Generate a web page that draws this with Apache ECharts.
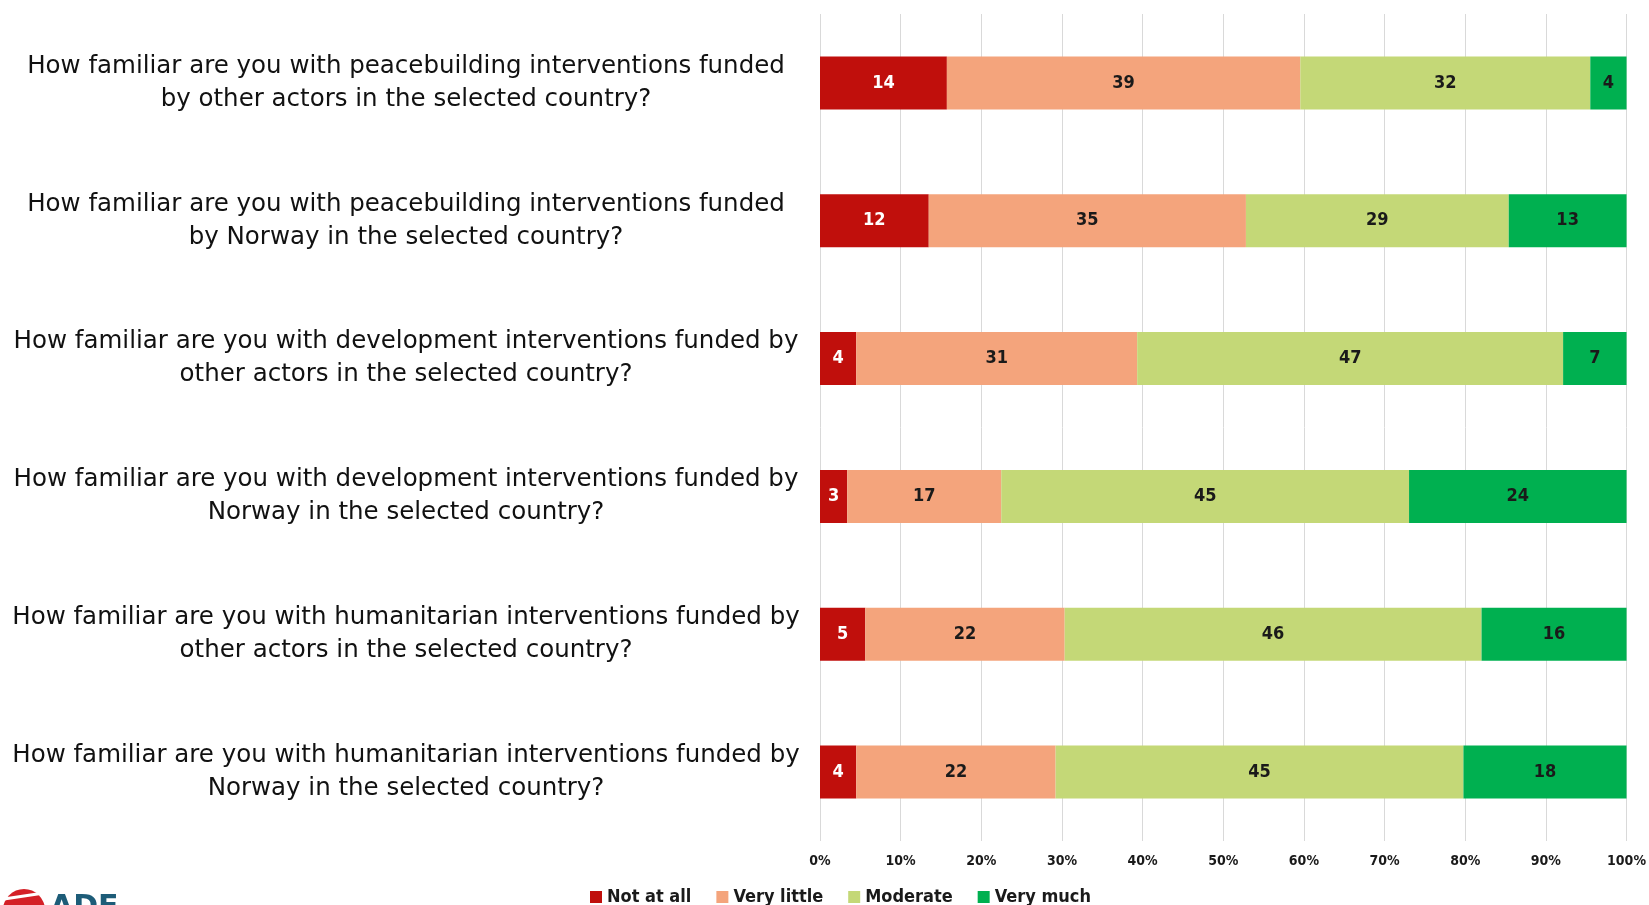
<!DOCTYPE html>
<html>
<head>
<meta charset="utf-8">
<script src="https://cdn.jsdelivr.net/npm/echarts@6/dist/echarts.min.js"></script>
<style>
  html, body { margin: 0; padding: 0; background: #fff; }
  #chart { width: 1649px; height: 905px; }
</style>
</head>
<body>
<div id="chart"></div>
<script>
// survey questions, top to bottom
const questions = [
  'How familiar are you with peacebuilding interventions funded\nby other actors in the selected country?',
  'How familiar are you with peacebuilding interventions funded\nby Norway in the selected country?',
  'How familiar are you with development interventions funded by\nother actors in the selected country?',
  'How familiar are you with development interventions funded by\nNorway in the selected country?',
  'How familiar are you with humanitarian interventions funded by\nother actors in the selected country?',
  'How familiar are you with humanitarian interventions funded by\nNorway in the selected country?'
]

// answer counts per question
const notAtAll   = [14, 12, 4, 3, 5, 4]
const veryLittle = [39, 35, 31, 17, 22, 22]
const moderate   = [32, 29, 47, 45, 46, 45]
const veryMuch   = [4, 13, 7, 24, 16, 18]

const xTicks = [0, 10, 20, 30, 40, 50, 60, 70, 80, 90, 100]

const answers = [
  { name: 'Not at all', counts: notAtAll, color: '#C00F0C', text: '#ffffff' },
  { name: 'Very little', counts: veryLittle, color: '#F4A47C', text: '#1a1a1a' },
  { name: 'Moderate', counts: moderate, color: '#C4D877', text: '#1a1a1a' },
  { name: 'Very much', counts: veryMuch, color: '#00B050', text: '#1a1a1a' }
]

const totals = questions.map((_, i) => answers.reduce((s, a) => s + a.counts[i], 0))

const narrow = '"Liberation Sans Narrow", "DejaVu Sans Condensed", "Open Sans", sans-serif'

const chart = echarts.init(document.getElementById('chart'))

chart.setOption({
  animation: false,
  grid: { left: 820, right: 19, top: 14, height: 827, containLabel: false },
  legend: {
    top: 883,
    left: 585,
    itemWidth: 12,
    itemHeight: 12,
    itemGap: 25,
    icon: 'rect',
    textStyle: { fontSize: 18, fontWeight: 'bold', color: '#1a1a1a', fontFamily: narrow },
    data: answers.map(a => a.name)
  },
  xAxis: {
    type: 'value',
    min: xTicks[0],
    max: xTicks[xTicks.length - 1],
    interval: 10,
    axisLine: { show: false },
    axisTick: { show: false },
    splitLine: { lineStyle: { color: '#D9D9D9', width: 1 } },
    axisLabel: {
      formatter: '{value}%',
      fontSize: 14,
      fontWeight: 'bold',
      color: '#1a1a1a',
      fontFamily: narrow,
      margin: 13
    }
  },
  yAxis: {
    type: 'category',
    inverse: true,
    data: questions,
    axisLine: { show: false },
    axisTick: { show: false },
    axisLabel: {
      align: 'center',
      margin: 414,
      fontSize: 24.5,
      lineHeight: 33,
      padding: [4, 0, 0, 0],
      color: '#111',
      fontFamily: '"DejaVu Sans", sans-serif'
    }
  },
  series: answers.map(a => ({
    name: a.name,
    type: 'bar',
    stack: 'total',
    barWidth: 53,
    itemStyle: { color: a.color },
    label: {
      show: true,
      position: 'inside',
      color: a.text,
      fontSize: 18,
      fontWeight: 'bold',
      fontFamily: narrow,
      formatter: p => a.counts[p.dataIndex]
    },
    data: a.counts.map((c, i) => c / totals[i] * 100)
  })),
  graphic: [
    {
      type: 'circle',
      shape: { cx: 24, cy: 910, r: 21 },
      style: { fill: '#D42027' }
    },
    {
      type: 'line',
      shape: { x1: 4, y1: 899, x2: 44, y2: 893 },
      style: { stroke: '#ffffff', lineWidth: 3 }
    },
    {
      type: 'text',
      left: 50,
      top: 893,
      style: { text: 'ADE', font: 'bold 30px "DejaVu Sans", sans-serif', fill: '#1D5C78' }
    }
  ]
})
</script>
</body>
</html>
